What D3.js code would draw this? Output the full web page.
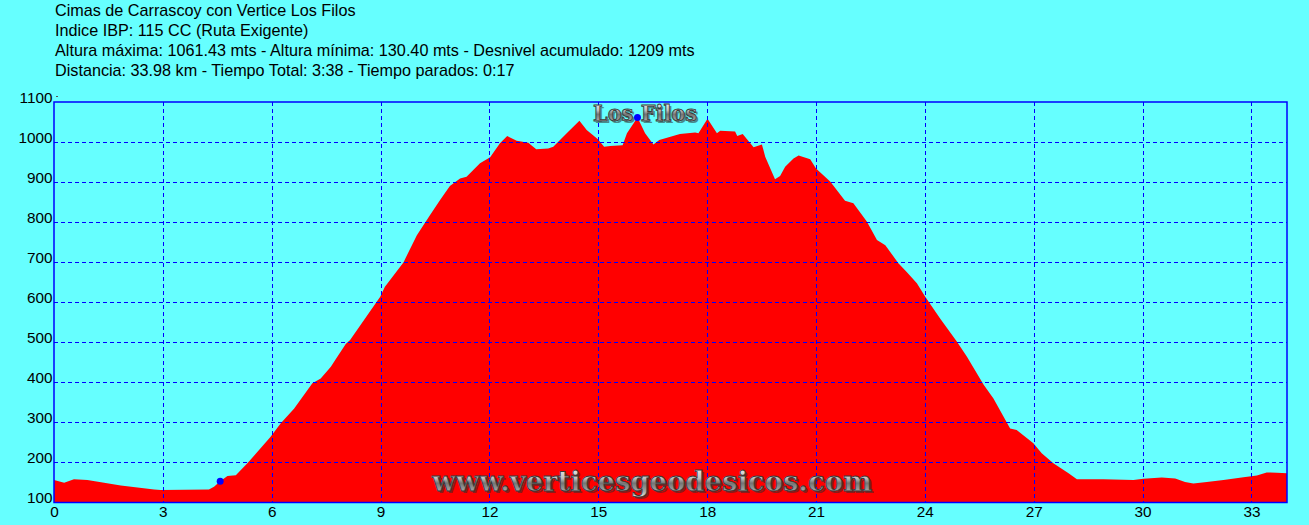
<!DOCTYPE html>
<html>
<head>
<meta charset="utf-8">
<script src="https://cdn.jsdelivr.net/npm/d3@7"></script>
<style>
  html, body { margin: 0; padding: 0; background: #66FFFF; }
  svg { display: block; }
</style>
</head>
<body>
<svg id="chart" width="1309" height="525"></svg>
<script>
// ---------------- DATA ----------------
const titleLines = [
  "Cimas de Carrascoy con Vertice Los Filos",
  "Indice IBP: 115 CC (Ruta Exigente)",
  "Altura máxima: 1061.43 mts - Altura mínima: 130.40 mts - Desnivel acumulado: 1209 mts",
  "Distancia: 33.98 km - Tiempo Total: 3:38 - Tiempo parados: 0:17"
];

const distanceKm = [
  0, 0.28, 0.55, 0.92, 1.84, 2.76, 2.94, 4.27, 4.41, 4.58,
  4.78, 5.01, 5.33, 5.97, 6.25, 6.62, 7.12, 7.35, 7.63, 7.75,
  8.04, 8.16, 8.99, 9.12, 9.63, 10.0, 10.36, 10.64, 10.91, 11.19,
  11.37, 11.74, 12.02, 12.29, 12.49, 12.75, 13.07, 13.29, 13.62, 13.76,
  14.13, 14.48, 14.68, 14.99, 15.16, 15.33, 15.67, 15.79, 16.08, 16.29,
  16.52, 16.68, 17.25, 17.67, 17.76, 18.01, 18.27, 18.36, 18.77, 18.83,
  18.98, 19.28, 19.51, 19.60, 19.87, 20.01, 20.15, 20.38, 20.52, 20.84,
  21.0, 21.39, 21.8, 22.03, 22.40, 22.68, 22.91, 23.27, 23.50, 23.78,
  24.01, 24.42, 24.88, 25.16, 25.62, 25.89, 26.35, 26.53, 26.99, 27.22,
  27.54, 27.96, 28.19, 28.92, 29.75, 30.02, 30.53, 30.9, 31.17, 31.40,
  31.77, 32.23, 32.78, 33.15, 33.42, 33.70, 33.98
];

const elevationM = [
  155, 148, 157, 155, 141, 131, 130, 131, 138, 152,
  165, 167, 197, 263, 297, 334, 397, 409, 438, 455,
  495, 505, 613, 638, 699, 767, 817, 855, 890, 909,
  913, 947, 962, 997, 1015, 1003, 998, 982, 984, 988,
  1022, 1053, 1030, 1007, 988, 990, 992, 1022, 1061, 1022,
  994, 1005, 1020, 1024, 1022, 1058, 1022, 1028, 1026, 1015,
  1020, 987, 994, 963, 907, 915, 938, 959, 966, 957,
  934, 901, 853, 847, 801, 755, 742, 697, 675, 647,
  613, 559, 501, 463, 393, 359, 284, 280, 247, 222,
  197, 172, 157, 157, 155, 158, 161, 159, 150, 146,
  150, 155, 162, 166, 174, 173, 172
];

const markerKm = [4.58, 16.08];
const markerEle = [152, 1061];
const markerNames = ["", "Los Filos"];

const xTicks = [0, 3, 6, 9, 12, 15, 18, 21, 24, 27, 30, 33];
const yTicks = [100, 200, 300, 400, 500, 600, 700, 800, 900, 1000, 1100];
const watermark = "www.verticesgeodesicos.com";

// ---------------- CHART ----------------
const svg = d3.select("#chart");
const X0 = 54, X1 = 1287, Y0 = 102, Y1 = 502;
const x = d3.scaleLinear().domain([0, 33.98]).range([X0, X1]);
const y = d3.scaleLinear().domain([100, 1100]).range([Y1, Y0]);

const BLUE = "#0000FF";

// defs
const defs = svg.append("defs");
const grad = defs.append("linearGradient").attr("id", "metal")
  .attr("x1", 0).attr("y1", 0).attr("x2", 0).attr("y2", 1);
[["0%", "#f8f8f8"], ["40%", "#c0c0c0"], ["55%", "#747474"], ["80%", "#a8a8a8"], ["100%", "#ececec"]]
  .forEach(([o, c]) => grad.append("stop").attr("offset", o).attr("stop-color", c));

// background
svg.append("rect").attr("width", 1309).attr("height", 525).attr("fill", "#66FFFF");

// title lines
svg.append("g").selectAll("text").data(titleLines).join("text")
  .attr("x", 55).attr("y", (d, i) => 16 + i * 20)
  .attr("font-family", "Liberation Sans, Arial, sans-serif")
  .attr("font-size", 16.2)
  .attr("fill", "#000")
  .text(d => d);

// area
const data = distanceKm.map((d, i) => ({ d, e: elevationM[i] }));
const area = d3.area().x(p => x(p.d)).y0(y(100)).y1(p => y(p.e));
svg.append("path").datum(data).attr("d", area).attr("fill", "#FF0000");

// grid
const grid = svg.append("g").attr("stroke", BLUE).attr("stroke-width", 1).attr("stroke-dasharray", "4,3");
grid.selectAll("line.v").data(xTicks.filter(t => t > 0)).join("line")
  .attr("x1", t => Math.round(x(t)) + 0.5).attr("x2", t => Math.round(x(t)) + 0.5)
  .attr("y1", Y0).attr("y2", Y1);
grid.selectAll("line.h").data(yTicks.filter(t => t > 100 && t < 1100)).join("line")
  .attr("y1", t => Math.round(y(t)) + 0.5).attr("y2", t => Math.round(y(t)) + 0.5)
  .attr("x1", X0).attr("x2", X1);

// border
svg.append("rect").attr("x", X0).attr("y", Y0).attr("width", X1 - X0).attr("height", Y1 - Y0 + 0.5)
  .attr("fill", "none").attr("stroke", BLUE).attr("stroke-width", 1.5);

// axes
const yAxis = svg.append("g").attr("transform", `translate(${X0},0)`)
  .call(d3.axisLeft(y).tickValues(yTicks).tickSize(0).tickPadding(1.5).tickFormat(d3.format("d")));
yAxis.select(".domain").remove();
yAxis.selectAll("text").attr("dy", "0.05em")
  .attr("font-family", "Liberation Sans, Arial, sans-serif").attr("font-size", 15.3).attr("fill", "#000");
yAxis.selectAll(".tick line").remove();

const xAxis = svg.append("g").attr("transform", `translate(0,${Y1})`)
  .call(d3.axisBottom(x).tickValues(xTicks).tickSize(0).tickPadding(4).tickFormat(d3.format("d")));
xAxis.select(".domain").remove();
xAxis.selectAll("text")
  .attr("font-family", "Liberation Sans, Arial, sans-serif").attr("font-size", 15.3).attr("fill", "#000");

// small tick after 1100
svg.append("line").attr("x1", 56).attr("x2", 58).attr("y1", y(1100) - 5.5).attr("y2", y(1100) - 5.5)
  .attr("stroke", "#555").attr("stroke-width", 1);

// embossed text helper
function metalText(txt, cx, by, size, len) {
  const g = svg.append("g").attr("font-family", "DejaVu Serif, serif").attr("font-weight", "bold")
    .attr("font-size", size).attr("text-anchor", "middle");
  g.append("text").attr("x", cx + 2).attr("y", by + 2).attr("fill", "#303030").attr("opacity", 0.55)
    .attr("textLength", len).attr("lengthAdjust", "spacingAndGlyphs").text(txt);
  g.append("text").attr("x", cx).attr("y", by).attr("fill", "url(#metal)")
    .attr("stroke", "#3a3a3a").attr("stroke-width", 0.9)
    .attr("textLength", len).attr("lengthAdjust", "spacingAndGlyphs").text(txt);
}

// marker label
metalText(markerNames[1], 645, 121, 22, 104);

// markers
svg.append("g").selectAll("circle").data(markerKm).join("circle")
  .attr("cx", (d) => x(d)).attr("cy", (d, i) => y(markerEle[i]))
  .attr("r", 3.5).attr("fill", BLUE);

// watermark
metalText(watermark, 652, 491, 28, 440);
</script>
</body>
</html>
